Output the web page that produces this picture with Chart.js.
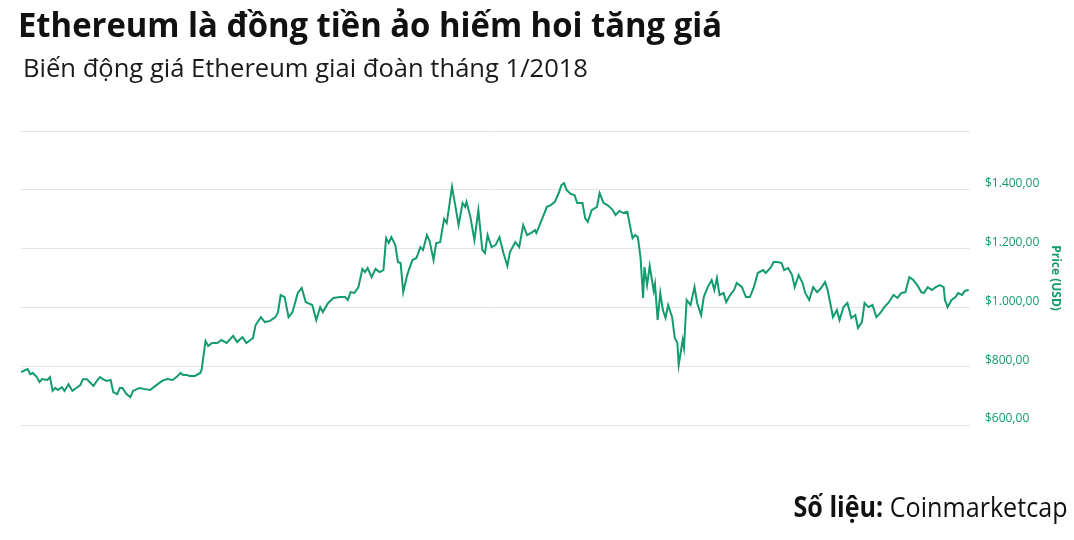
<!DOCTYPE html>
<html>
<head>
<meta charset="utf-8">
<script src="https://cdn.jsdelivr.net/npm/chart.js@4"></script>
<style>
  html, body { margin: 0; padding: 0; background: #fff; }
  body { width: 1074px; height: 540px; position: relative; overflow: hidden; font-family: "Open Sans", sans-serif; }
  #wrap { position: absolute; left: 0; top: 0; width: 1074px; height: 540px; }
  .t { position: absolute; white-space: nowrap; line-height: 1; display: inline-block; }
  #title { left: 18px; top: 7px; font-size: 34px; font-weight: 700; color: #111; transform-origin: left top; }
  #sub { left: 23px; top: 55px; font-size: 25px; font-weight: 400; color: #1a1a1a; transform-origin: left top; }
  #src { right: 7px; top: 492px; font-size: 28px; font-weight: 400; color: #111; transform-origin: right top; }
</style>
</head>
<body>
<div id="wrap"><canvas id="priceChart" width="1074" height="540"></canvas></div>
<div class="t" id="title" data-w="704">Ethereum là đồng tiền ảo hiếm hoi tăng giá</div>
<div class="t" id="sub" data-w="565">Biến động giá Ethereum giai đoàn tháng 1/2018</div>
<div class="t" id="src" data-w="274"><b>Số liệu:</b> Coinmarketcap</div>
<script>
// hours since 1/1/2018 00:00 and ETH price (USD)
const hours = [
  0, 5, 7, 9, 12, 14, 16, 20, 22, 24, 26, 28, 31, 33, 36, 39, 42, 45, 47, 50,
  52, 55, 58, 60, 62, 65, 68, 70, 73, 75, 77, 80, 83, 85, 88, 90, 94, 98, 102, 107,
  111, 115, 118, 121, 123, 126, 128, 132, 136, 137, 140, 142, 145, 149, 152, 156, 161, 164, 168, 171,
  176, 178, 182, 185, 189, 193, 195, 197, 200, 203, 206, 210, 213, 216, 221, 224, 227, 229, 233, 237,
  242, 246, 248, 250, 253, 256, 259, 261, 263, 266, 269, 272, 275, 277, 279, 281, 284, 286, 288, 290,
  293, 295, 297, 300, 303, 305, 308, 310, 313, 315, 318, 321, 323, 327, 329, 332, 335, 337, 338, 341,
  344, 347, 350, 352, 354, 357, 360, 363, 366, 369, 371, 375, 378, 381, 384, 388, 390, 391, 395, 399,
  402, 405, 408, 410, 412, 414, 417, 420, 422, 426, 428, 430, 433, 437, 439, 442, 445, 449, 451, 454,
  457, 460, 463, 464, 466, 468, 470, 472, 473, 475, 477, 480, 481, 483, 485, 487, 489, 491, 494, 496,
  498, 499, 502, 503, 505, 508, 511, 513, 516, 518, 521, 524, 526, 528, 530, 533, 535, 538, 541, 543,
  547, 550, 553, 556, 559, 563, 565, 569, 571, 574, 577, 579, 582, 585, 587, 590, 593, 595, 598, 601,
  604, 607, 610, 612, 615, 616, 619, 621, 624, 627, 630, 633, 635, 638, 640, 643, 646, 649, 652, 655,
  658, 662, 665, 668, 671, 674, 677, 680, 683, 685, 688, 691, 694, 697, 700, 701, 703, 706, 709, 711,
  714, 716, 719
];
const prices = [
  780, 790, 773, 777, 763, 746, 756, 753, 763, 716, 726, 719, 729, 716, 739, 716, 726, 736, 756, 756,
  746, 733, 753, 763, 756, 750, 753, 712, 705, 726, 726, 705, 695, 716, 722, 726, 722, 719, 733, 750,
  756, 753, 763, 777, 770, 770, 767, 767, 777, 787, 886, 869, 879, 879, 889, 879, 903, 882, 899, 879,
  896, 940, 967, 950, 954, 967, 984, 1042, 1035, 967, 984, 1049, 1066, 1018, 1008, 957, 1001, 984, 1015, 1032,
  1035, 1035, 1025, 1052, 1049, 1069, 1131, 1120, 1134, 1103, 1131, 1120, 1127, 1236, 1219, 1239, 1212, 1154, 1151, 1052,
  1110, 1137, 1161, 1168, 1205, 1195, 1246, 1226, 1161, 1219, 1222, 1301, 1287, 1410, 1359, 1280, 1355, 1342, 1359, 1307,
  1229, 1331, 1195, 1185, 1246, 1205, 1212, 1239, 1185, 1141, 1188, 1222, 1205, 1280, 1246, 1256, 1263, 1253, 1297, 1342,
  1348, 1359, 1389, 1416, 1423, 1399, 1386, 1382, 1355, 1355, 1304, 1291, 1331, 1342, 1389, 1355, 1348, 1331, 1314, 1328,
  1321, 1325, 1256, 1236, 1246, 1239, 1171, 1032, 1137, 1076, 1141, 1056, 1080, 957, 1049, 991, 964, 1008, 967, 896,
  879, 804, 889, 862, 1025, 1008, 1069, 1015, 974, 1035, 1069, 1093, 1059, 1100, 1042, 1049, 1018, 1042, 1059, 1083,
  1069, 1035, 1035, 1069, 1117, 1127, 1117, 1137, 1154, 1154, 1151, 1127, 1134, 1110, 1069, 1110, 1083, 1049, 1025, 1069,
  1052, 1066, 1086, 1059, 991, 967, 991, 957, 1001, 1015, 964, 974, 930, 950, 1015, 1001, 1008, 967, 981, 1001,
  1015, 1042, 1032, 1049, 1052, 1103, 1093, 1076, 1052, 1049, 1069, 1059, 1069, 1076, 1069, 1025, 1001, 1025, 1035, 1049,
  1042, 1056, 1059
];
// y axis ticks and their labels (top line has no label)
const tickValues = [600, 800, 1000, 1200, 1400, 1600];
const tickLabels = ["$600,00", "$800,00", "$1.000,00", "$1.200,00", "$1.400,00", ""];

const green = "#139b6f";

new Chart(document.getElementById("priceChart"), {
  type: "line",
  data: {
    datasets: [{
      data: hours.map((h, i) => ({ x: h, y: prices[i] })),
      borderColor: green,
      borderWidth: 2,
      pointRadius: 0,
      tension: 0,
      fill: false
    }]
  },
  options: {
    responsive: false,
    animation: false,
    layout: { padding: { left: 21, top: 131, bottom: 115, right: 0 } },
    plugins: { legend: { display: false }, tooltip: { enabled: false } },
    scales: {
      x: { type: "linear", min: 0, max: 720, display: false },
      y: {
        position: "right",
        min: 600,
        max: 1600,
        afterBuildTicks: s => { s.ticks = tickValues.map(v => ({ value: v })); },
        afterFit: s => { s.width = 104; },
        ticks: {
          callback: v => tickLabels[tickValues.indexOf(v)],
          color: green,
          font: { family: "Open Sans", size: 12 },
          padding: 15,
          labelOffset: -6
        },
        grid: { color: "#e4e4e4", lineWidth: 1, drawTicks: false },
        border: { display: false },
        title: {
          display: true,
          text: "Price (USD)",
          color: green,
          font: { family: "Open Sans", size: 12, weight: "bold" },
          padding: { top: 11, bottom: 0 }
        }
      }
    }
  }
});

// squeeze the html texts to the widths of the original
document.querySelectorAll(".t").forEach(el => {
  const w = el.getBoundingClientRect().width;
  el.style.transform = "scaleX(" + (el.dataset.w / w) + ")";
});
</script>
</body>
</html>
